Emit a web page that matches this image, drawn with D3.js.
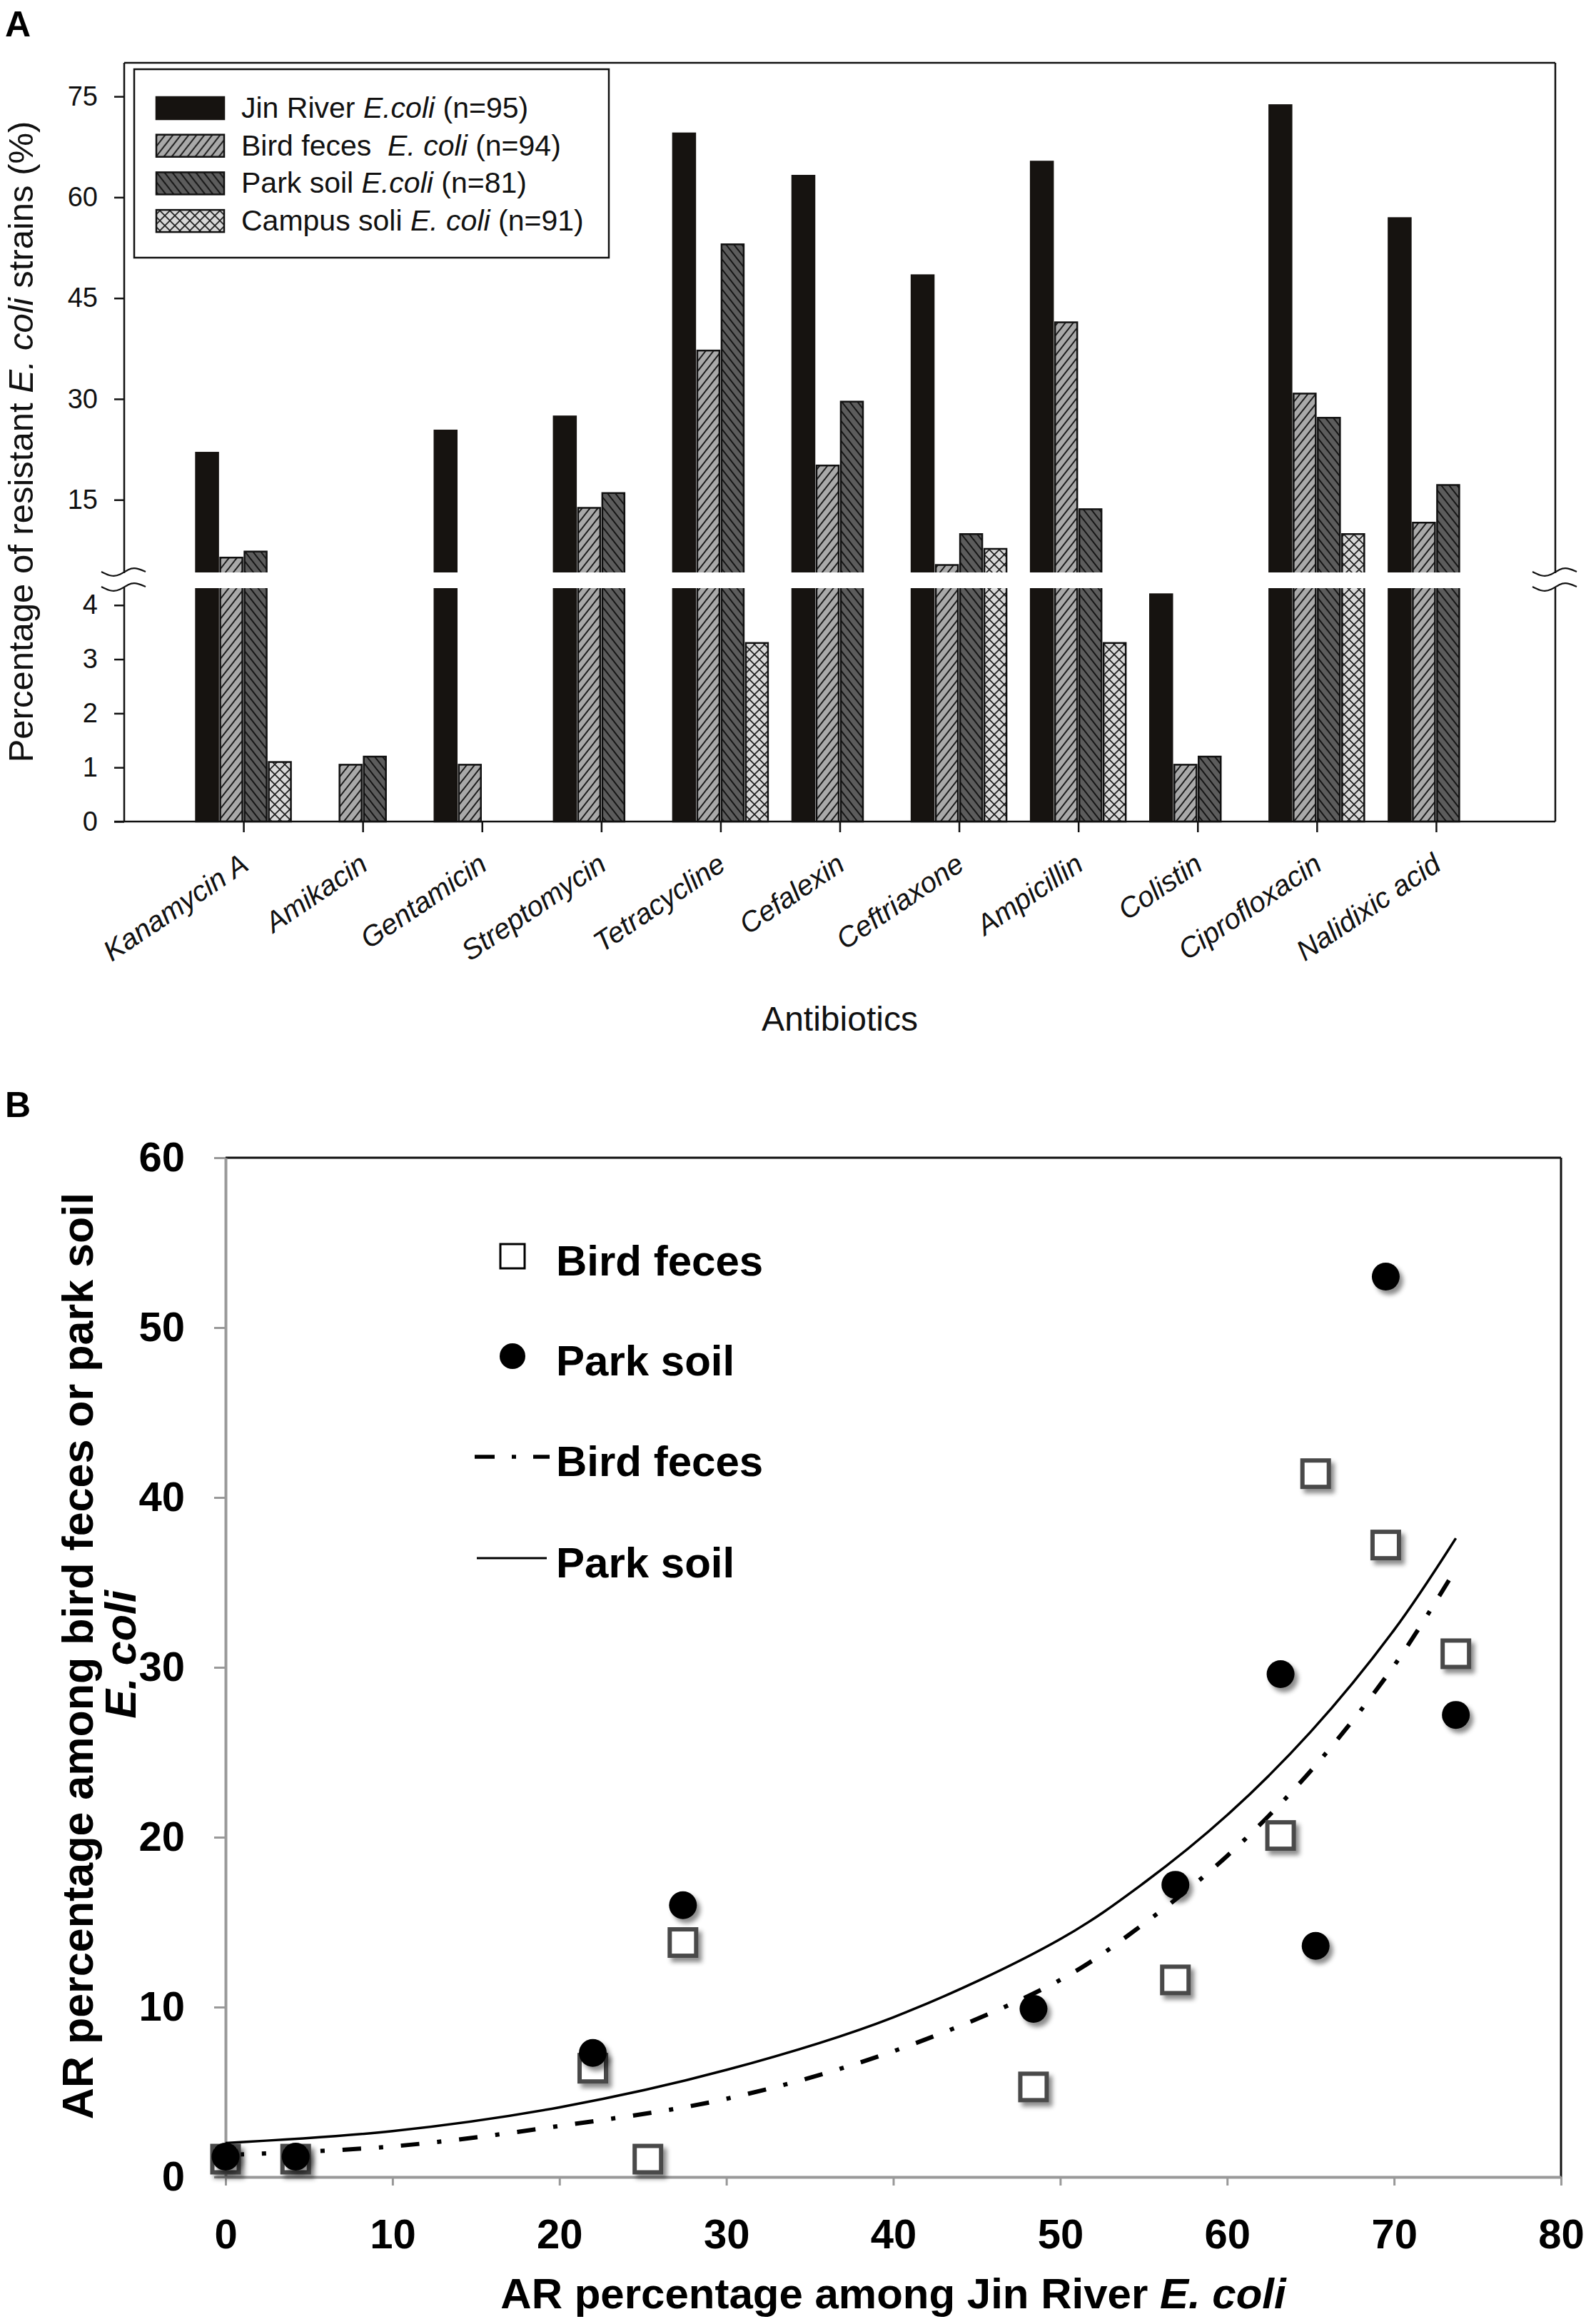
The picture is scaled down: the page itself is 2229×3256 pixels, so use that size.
<!DOCTYPE html>
<html>
<head>
<meta charset="utf-8">
<script src="https://cdn.jsdelivr.net/npm/d3@7"></script>
<style>
body { margin: 0; background: #fff; }
svg { display: block; font-family: "Liberation Sans", Arial, sans-serif; }
</style>
</head>
<body>
<svg id="chart" width="2229" height="3256"></svg>
<script>
// ---- data ----
var antibiotics = ['Kanamycin A', 'Amikacin', 'Gentamicin', 'Streptomycin', 'Tetracycline', 'Cefalexin',
	'Ceftriaxone', 'Ampicillin', 'Colistin', 'Ciprofloxacin', 'Nalidixic acid'];
var seriesKeys = ['jin', 'bird', 'park', 'campus'];
var jinRiver = [22.0, 0, 25.3, 27.4, 69.5, 63.2, 48.4, 65.3, 4.2, 73.7, 56.9];
var birdFeces = [6.4, 1.05, 1.05, 13.8, 37.2, 20.1, 5.3, 41.4, 1.05, 30.8, 11.6];
var parkSoil = [7.3, 1.2, 0, 16.0, 53.0, 29.6, 9.9, 13.6, 1.2, 27.2, 17.2];
var campusSoil = [1.1, 0, 0, 0, 3.3, 0, 7.7, 3.3, 0, 9.9, 0];
var legendLabelsA = [
	['Jin River ', 'E.coli', ' (n=95)'],
	['Bird feces  ', 'E. coli', ' (n=94)'],
	['Park soil ', 'E.coli', ' (n=81)'],
	['Campus soli ', 'E. coli', ' (n=91)']
];
var upperTicks = [15, 30, 45, 60, 75];
var lowerTicks = [0, 1, 2, 3, 4];
var breakValue = 4.3;

// panel B : fitted trend lines
var trendX = [0, 10, 20, 30, 40, 50, 55, 60, 65, 70, 73.7];
var trendBird = [1.3, 1.8, 3.0, 4.6, 7.4, 11.6, 14.9, 18.9, 23.9, 30.1, 35.8];
var trendPark = [2.0, 2.7, 4.1, 6.3, 9.4, 14.0, 17.3, 21.3, 26.2, 32.2, 37.6];
var ticksBX = [0, 10, 20, 30, 40, 50, 60, 70, 80];
var ticksBY = [0, 10, 20, 30, 40, 50, 60];
var legendLabelsB = ['Bird feces', 'Park soil', 'Bird feces', 'Park soil'];

var seriesValues = {jin: jinRiver, bird: birdFeces, park: parkSoil, campus: campusSoil};
var seriesFill = {jin: '#161310', bird: 'url(#hatchBird)', park: 'url(#hatchPark)', campus: 'url(#hatchCampus)'};

var svg = d3.select('#chart');
svg.append('rect').attr('width', 2229).attr('height', 3256).attr('fill', '#fff');

// ---- patterns / filters ----
var defs = svg.append('defs');
var pb = defs.append('pattern').attr('id', 'hatchBird').attr('patternUnits', 'userSpaceOnUse').attr('width', 11).attr('height', 14);
pb.append('rect').attr('width', 11).attr('height', 14).attr('fill', '#a9a9a9');
pb.append('path').attr('d', 'M0,14L11,0M-2,2L2,-2M9,16L13,12').attr('stroke', '#1a1a1a').attr('stroke-width', 2);
var pp = defs.append('pattern').attr('id', 'hatchPark').attr('patternUnits', 'userSpaceOnUse').attr('width', 11).attr('height', 14);
pp.append('rect').attr('width', 11).attr('height', 14).attr('fill', '#5c5c5c');
pp.append('path').attr('d', 'M0,0L11,14M-2,12L2,16M9,-2L13,2').attr('stroke', '#141414').attr('stroke-width', 2);
var pc = defs.append('pattern').attr('id', 'hatchCampus').attr('patternUnits', 'userSpaceOnUse').attr('width', 14).attr('height', 14);
pc.append('rect').attr('width', 14).attr('height', 14).attr('fill', '#d8d8d8');
pc.append('path').attr('d', 'M0,0L14,14M0,14L14,0').attr('stroke', '#1a1a1a').attr('stroke-width', 1.6);
defs.append('filter').attr('id', 'shadow').attr('x', '-50%').attr('y', '-50%').attr('width', '200%').attr('height', '200%')
	.append('feDropShadow').attr('dx', 5).attr('dy', 6).attr('stdDeviation', 3)
	.attr('flood-color', '#000').attr('flood-opacity', 0.45);

// =================== PANEL A ===================
var A = {l: 174, r: 2179, t: 88, b: 1151};
var x = d3.scalePoint().domain(antibiotics).range([A.l, A.r]).padding(1);
var xSub = d3.scaleBand().domain(seriesKeys).range([-66.5, 66.5]).paddingInner(0.088);
var yUp = d3.scaleLinear().domain([breakValue, 80]).range([801, A.t]);
var yLow = d3.scaleLinear().domain([0, breakValue]).range([A.b, 825]);
function yA(v) { return v > breakValue ? yUp(v) : yLow(v); }

svg.append('text').attr('x', 7).attr('y', 51).attr('font-size', 50).attr('font-weight', 'bold').text('A');

var bars = [];
seriesKeys.forEach(function(k) {
	seriesValues[k].forEach(function(v, i) {
		if (v > 0) bars.push({key: k, cat: antibiotics[i], value: v});
	});
});

svg.append('g').selectAll('rect').data(bars).enter().append('rect')
	.attr('x', function(d) { return x(d.cat) + xSub(d.key); })
	.attr('width', xSub.bandwidth())
	.attr('y', function(d) { return yA(d.value); })
	.attr('height', function(d) { return A.b - yA(d.value); })
	.attr('fill', function(d) { return seriesFill[d.key]; })
	.attr('stroke', function(d) { return d.key === 'jin' ? '#161310' : '#111'; })
	.attr('stroke-width', 2.5);

// axis break gap
svg.append('rect').attr('x', A.l + 1.5).attr('y', yUp(breakValue) + 1).attr('width', A.r - A.l - 3)
	.attr('height', yLow(breakValue) - yUp(breakValue) - 2).attr('fill', '#fff');

// frame
var frame = svg.append('g').attr('stroke', '#111').attr('stroke-width', 2.5).attr('fill', 'none');
frame.append('line').attr('x1', A.l).attr('x2', A.r).attr('y1', A.t).attr('y2', A.t);
[A.l, A.r].forEach(function(xx) {
	frame.append('line').attr('x1', xx).attr('x2', xx).attr('y1', A.t).attr('y2', yUp(breakValue) + 2);
	frame.append('line').attr('x1', xx).attr('x2', xx).attr('y1', yLow(breakValue) - 2).attr('y2', A.b);
	[yUp(breakValue) + 1, yLow(breakValue) - 2].forEach(function(yy) {
		var wave = d3.line().curve(d3.curveBasis)([[xx - 32, yy - 1], [xx - 18, yy + 6], [xx - 6, yy + 4], [xx + 6, yy - 5], [xx + 16, yy - 7], [xx + 30, yy - 1]]);
		frame.append('path').attr('d', wave).attr('stroke-width', 2.2);
	});
});
frame.append('line').attr('x1', A.l - 14).attr('x2', A.r).attr('y1', A.b).attr('y2', A.b);

function styleAxis(g, size) {
	g.select('.domain').remove();
	g.selectAll('.tick line').attr('stroke', '#111').attr('stroke-width', 2.5);
	g.selectAll('.tick text').attr('font-size', size).attr('fill', '#111').attr('font-family', '"Liberation Sans", Arial, sans-serif');
}
svg.append('g').attr('transform', 'translate(' + A.l + ',0)')
	.call(d3.axisLeft(yUp).tickValues(upperTicks).tickSize(14).tickPadding(23).tickFormat(d3.format('d')))
	.call(styleAxis, 38);
svg.append('g').attr('transform', 'translate(' + A.l + ',0)')
	.call(d3.axisLeft(yLow).tickValues(lowerTicks).tickSize(14).tickPadding(23).tickFormat(d3.format('d')))
	.call(styleAxis, 38);
var xAxisA = svg.append('g').attr('transform', 'translate(0,' + A.b + ')')
	.call(d3.axisBottom(x).tickSize(15).tickFormat(''))
	.call(styleAxis, 38);
xAxisA.selectAll('.tick').append('text')
	.attr('transform', 'translate(9,66) rotate(-34)')
	.attr('text-anchor', 'end').attr('font-style', 'italic').attr('font-size', 40).attr('fill', '#111')
	.attr('font-family', '"Liberation Sans", Arial, sans-serif')
	.text(function(d) { return d; });

svg.append('text').attr('x', (A.l + A.r) / 2).attr('y', 1444).attr('text-anchor', 'middle')
	.attr('font-size', 48).attr('fill', '#111').text('Antibiotics');

var ytA = svg.append('text').attr('transform', 'translate(46,619) rotate(-90)').attr('text-anchor', 'middle')
	.attr('font-size', 49).attr('fill', '#111');
ytA.append('tspan').text('Percentage of resistant ');
ytA.append('tspan').attr('font-style', 'italic').text('E. coli');
ytA.append('tspan').text(' strains (%)');

// legend A
var legA = svg.append('g');
legA.append('rect').attr('x', 188).attr('y', 97).attr('width', 665).attr('height', 264)
	.attr('fill', '#fff').attr('stroke', '#111').attr('stroke-width', 2.5);
var legRowsA = legA.selectAll('g.row').data(seriesKeys).enter().append('g')
	.attr('transform', function(d, i) { return 'translate(0,' + (151 + i * 52.7) + ')'; });
legRowsA.append('rect').attr('x', 219).attr('y', -15).attr('width', 95).attr('height', 31)
	.attr('fill', function(d) { return seriesFill[d]; })
	.attr('stroke', function(d) { return d === 'jin' ? '#161310' : '#111'; }).attr('stroke-width', 2.5);
var legTextA = legRowsA.append('text').attr('x', 338).attr('y', 14).attr('font-size', 41).attr('fill', '#111');
legTextA.each(function(d, i) {
	var t = d3.select(this);
	t.append('tspan').style('white-space', 'pre').text(legendLabelsA[i][0]);
	t.append('tspan').attr('font-style', 'italic').text(legendLabelsA[i][1]);
	t.append('tspan').text(legendLabelsA[i][2]);
});

// =================== PANEL B ===================
var B = {l: 316, r: 2187, t: 1622, b: 3050};
var xB = d3.scaleLinear().domain([0, 80]).range([B.l, B.r]);
var yB = d3.scaleLinear().domain([0, 60]).range([B.b, B.t]);

svg.append('text').attr('x', 7).attr('y', 1565).attr('font-size', 50).attr('font-weight', 'bold').text('B');

svg.append('line').attr('x1', B.l).attr('x2', B.r).attr('y1', B.t).attr('y2', B.t).attr('stroke', '#111').attr('stroke-width', 3);
svg.append('line').attr('x1', B.r).attr('x2', B.r).attr('y1', B.t).attr('y2', B.b).attr('stroke', '#111').attr('stroke-width', 3);

function styleAxisB(g) {
	g.select('.domain').attr('stroke', '#999').attr('stroke-width', 4);
	g.selectAll('.tick line').attr('stroke', '#999').attr('stroke-width', 3);
	g.selectAll('.tick text').attr('font-size', 58).attr('font-weight', 'bold').attr('fill', '#000')
		.attr('font-family', '"Liberation Sans", Arial, sans-serif');
}
svg.append('g').attr('transform', 'translate(' + B.l + ',0)')
	.call(d3.axisLeft(yB).tickValues(ticksBY).tickSize(16).tickSizeOuter(0).tickPadding(41))
	.call(styleAxisB);
svg.append('g').attr('transform', 'translate(0,' + B.b + ')')
	.call(d3.axisBottom(xB).tickValues(ticksBX).tickSize(12).tickSizeOuter(0).tickPadding(47))
	.call(styleAxisB);

var xtB = svg.append('text').attr('x', (B.l + B.r) / 2).attr('y', 3234).attr('text-anchor', 'middle')
	.attr('font-size', 60).attr('font-weight', 'bold').attr('fill', '#000');
xtB.append('tspan').text('AR percentage among Jin River ');
xtB.append('tspan').attr('font-style', 'italic').text('E. coli');
svg.append('text').attr('transform', 'translate(130,2320) rotate(-90)').attr('text-anchor', 'middle')
	.attr('font-size', 61).attr('font-weight', 'bold').attr('fill', '#000')
	.text('AR percentage among bird feces or park soil');
svg.append('text').attr('transform', 'translate(190,2318) rotate(-90)').attr('text-anchor', 'middle')
	.attr('font-size', 61).attr('font-weight', 'bold').attr('font-style', 'italic').attr('fill', '#000')
	.text('E. coli');

// trend lines
var trendLine = d3.line().curve(d3.curveCatmullRom)
	.x(function(d) { return xB(d[0]); }).y(function(d) { return yB(d[1]); });
svg.append('path').attr('d', trendLine(d3.zip(trendX, trendPark)))
	.attr('fill', 'none').attr('stroke', '#000').attr('stroke-width', 3.5);
svg.append('path').attr('d', trendLine(d3.zip(trendX, trendBird)))
	.attr('fill', 'none').attr('stroke', '#000').attr('stroke-width', 6)
	.attr('stroke-dasharray', '26,25,6,25');

// scatter points: Jin River value vs bird feces / park soil value
var birdPts = antibiotics.map(function(a, i) { return [jinRiver[i], birdFeces[i]]; }).filter(function(p) { return p[1] > 0; });
var parkPts = antibiotics.map(function(a, i) { return [jinRiver[i], parkSoil[i]]; }).filter(function(p) { return p[1] > 0; });
var sq = 37;
svg.append('g').selectAll('rect').data(birdPts).enter().append('rect')
	.attr('x', function(d) { return xB(d[0]) - sq / 2; })
	.attr('y', function(d) { return yB(d[1]) - sq / 2; })
	.attr('width', sq).attr('height', sq)
	.attr('fill', '#fff').attr('stroke', '#484848').attr('stroke-width', 6)
	.attr('filter', 'url(#shadow)');
svg.append('g').selectAll('circle').data(parkPts).enter().append('circle')
	.attr('cx', function(d) { return xB(d[0]); })
	.attr('cy', function(d) { return yB(d[1]); })
	.attr('r', 19.5).attr('fill', '#000')
	.attr('filter', 'url(#shadow)');

// legend B
var legB = svg.append('g');
var legRowY = [1760, 1900, 2041, 2183];
legB.append('rect').attr('x', 701).attr('y', legRowY[0] - 17).attr('width', 34).attr('height', 34)
	.attr('fill', '#fff').attr('stroke', '#000').attr('stroke-width', 3);
legB.append('circle').attr('cx', 718).attr('cy', legRowY[1]).attr('r', 18).attr('fill', '#000');
legB.append('line').attr('x1', 665).attr('x2', 770).attr('y1', legRowY[2]).attr('y2', legRowY[2])
	.attr('stroke', '#000').attr('stroke-width', 5.5).attr('stroke-dasharray', '28,24,6,24');
legB.append('line').attr('x1', 668).attr('x2', 766).attr('y1', legRowY[3]).attr('y2', legRowY[3])
	.attr('stroke', '#000').attr('stroke-width', 3);
legB.selectAll('text').data(legendLabelsB).enter().append('text')
	.attr('x', 779).attr('y', function(d, i) { return legRowY[i] + 27; })
	.attr('font-size', 60).attr('font-weight', 'bold').attr('fill', '#000')
	.text(function(d) { return d; });
</script>
</body>
</html>
